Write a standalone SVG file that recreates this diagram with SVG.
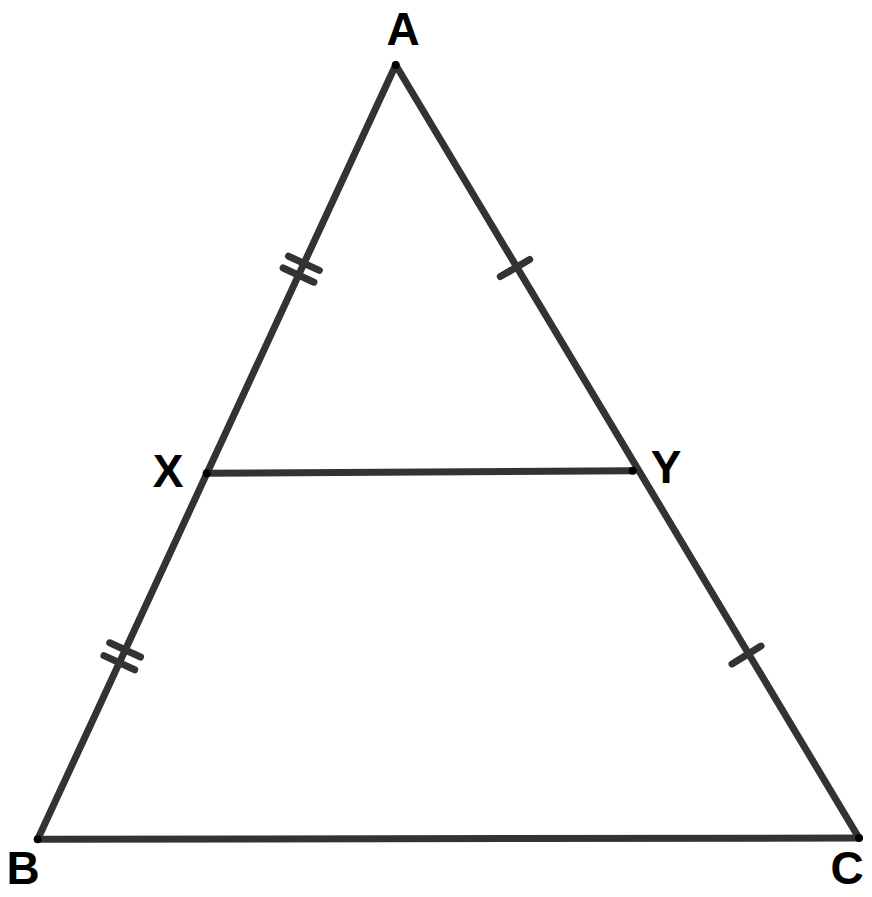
<svg xmlns="http://www.w3.org/2000/svg" width="872" height="897" viewBox="0 0 872 897">
<style>
.seg{stroke:#333333;stroke-width:7;stroke-linecap:round;fill:none}
.tick{stroke:#333333;stroke-width:7;stroke-linecap:round;fill:none}
.pt{fill:#000000}
.lbl{font-family:"Liberation Sans",Arial,sans-serif;font-weight:bold;font-size:46px;fill:#000000;text-anchor:middle}
</style>
<rect width="872" height="897" fill="#ffffff"/>
<g id="connectors">
<line class="seg" x1="395.7" y1="65" x2="37.7" y2="839.3"/>
<line class="seg" x1="37.7" y1="839.3" x2="859" y2="838"/>
<line class="seg" x1="859" y1="838" x2="395.7" y2="65"/>
<line class="seg" x1="206.7" y1="473.3" x2="632.7" y2="470.7"/>
<line class="tick" x1="288.5" y1="256.2" x2="319.3" y2="270.4"/>
<line class="tick" x1="283.1" y1="268.0" x2="313.9" y2="282.2"/>
<line class="tick" x1="109.7" y1="642.8" x2="140.5" y2="657.0"/>
<line class="tick" x1="103.9" y1="655.6" x2="134.7" y2="669.8"/>
<line class="tick" x1="500.3" y1="276.6" x2="529.7" y2="259.4"/>
<line class="tick" x1="732" y1="663.9" x2="761" y2="646.1"/>
</g>
<g id="A"><circle class="pt" cx="395.7" cy="65" r="4"/><text class="lbl" x="403" y="45">A</text></g>
<g id="X"><circle class="pt" cx="206.7" cy="473.3" r="4"/><text class="lbl" x="168" y="487">X</text></g>
<g id="Y"><circle class="pt" cx="632.7" cy="470.7" r="4"/><text class="lbl" x="666" y="483">Y</text></g>
<g id="B"><circle class="pt" cx="37.7" cy="839.3" r="4"/><text class="lbl" x="23" y="884">B</text></g>
<g id="C"><circle class="pt" cx="859" cy="838" r="4"/><text class="lbl" x="847" y="884">C</text></g>
</svg>
